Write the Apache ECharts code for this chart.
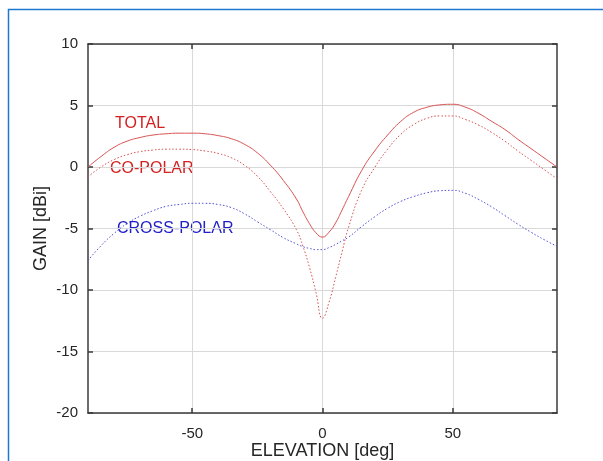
<!DOCTYPE html>
<html>
<head>
    <meta charset="UTF-8">
    <title>Gain vs elevation</title>
    <style>
        html, body {
            margin: 0;
            padding: 0;
            background: #fff;
        }
        #main {
            width: 603px;
            height: 461px;
        }
    </style>
    <script src="https://cdn.jsdelivr.net/npm/echarts@6/dist/echarts.min.js"></script>
</head>
<body>
<div id="main"></div>
<script type="text/javascript">
    // elevation samples (deg)
    var elevation = [-90, -85, -80, -75, -70, -65, -60, -55, -50, -45, -40, -35, -30, -25, -20, -15,
        -10, -7.5, -5, -2.5, 0, 2.5, 5, 7.5, 10, 15, 20, 25, 30, 35, 40, 45, 50, 55, 60, 65, 70, 75, 80, 85, 90];
    // gain (dBi)
    var total = [0.0, 0.85, 1.6, 2.1, 2.4, 2.6, 2.7, 2.75, 2.75, 2.7, 2.55, 2.3, 1.85, 1.15, 0.15, -1.1,
        -2.6, -3.65, -4.6, -5.35, -5.7, -5.3, -4.55, -3.5, -2.4, -0.3, 1.3, 2.6, 3.7, 4.45, 4.85, 5.05, 5.1, 4.85, 4.35, 3.7, 3.05, 2.25, 1.5, 0.75, 0.0];
    var coPolar = [-0.8, 0.0, 0.6, 1.0, 1.25, 1.38, 1.45, 1.45, 1.42, 1.3, 1.1, 0.75, 0.15, -0.75, -2.0, -3.4,
        -5.1, -6.45, -8.15, -10.2, -12.3, -11.0, -9.0, -6.9, -4.9, -1.9, -0.05, 1.45, 2.65, 3.45, 3.95, 4.15, 4.15, 3.85, 3.4, 2.8, 2.1, 1.3, 0.55, -0.2, -0.95];
    var crossPolar = [-7.6, -6.4, -5.4, -4.6, -4.0, -3.55, -3.2, -3.05, -2.95, -2.95, -3.05, -3.3, -3.8, -4.45, -5.1, -5.75,
        -6.25, -6.48, -6.62, -6.72, -6.72, -6.55, -6.3, -6.0, -5.7, -4.85, -4.05, -3.35, -2.8, -2.4, -2.1, -1.93, -1.9, -2.15, -2.65, -3.25, -3.95, -4.65, -5.3, -5.9, -6.45];
    var xTicks = [-50, 0, 50];

    var font = 'Liberation Sans, Arial, sans-serif';
    var axisColor = '#3a3a3a';
    var red = '#d95050';
    var blue = '#5050d8';

    function pairs(ys) {
        var out = [];
        for (var i = 0; i < elevation.length; i++) {
            out.push([elevation[i], ys[i]]);
        }
        return out;
    }

    var myChart = echarts.init(document.getElementById('main'));
    var option = {
        animation: false,
        backgroundColor: '#fff',
        grid: {
            left: 88,
            top: 44,
            right: 46,
            bottom: 48,
            containLabel: false,
            outerBoundsMode: 'none'
        },
        xAxis: [{
            type: 'value',
            min: -90,
            max: 90,
            name: 'ELEVATION [deg]',
            nameLocation: 'middle',
            nameMoveOverlap: false,
            nameGap: 29,
            nameTextStyle: {color: '#262626', fontSize: 18, fontFamily: font},
            axisLine: {onZero: false, lineStyle: {color: axisColor, width: 1.5}},
            axisTick: {inside: true, length: 5, customValues: xTicks, lineStyle: {color: axisColor, width: 1.5}},
            axisLabel: {customValues: xTicks, color: '#262626', fontSize: 15, fontFamily: font, margin: 13},
            splitLine: {show: true, lineStyle: {color: '#d9d9d9', width: 1}}
        }, {
            type: 'value',
            position: 'top',
            min: -90,
            max: 90,
            axisLine: {onZero: false, lineStyle: {color: axisColor, width: 1.5}},
            axisTick: {inside: true, length: 5, customValues: xTicks, lineStyle: {color: axisColor, width: 1.5}},
            axisLabel: {show: false},
            splitLine: {show: false}
        }],
        yAxis: [{
            type: 'value',
            min: -20,
            max: 10,
            interval: 5,
            name: 'GAIN [dBi]',
            nameLocation: 'middle',
            nameMoveOverlap: false,
            nameGap: 38,
            nameTextStyle: {color: '#262626', fontSize: 18, fontFamily: font},
            axisLine: {show: true, onZero: false, lineStyle: {color: axisColor, width: 1.5}},
            axisTick: {show: true, inside: true, length: 5, lineStyle: {color: axisColor, width: 1.5}},
            axisLabel: {color: '#262626', fontSize: 15, fontFamily: font, margin: 10},
            splitLine: {show: true, lineStyle: {color: '#d9d9d9', width: 1}}
        }, {
            type: 'value',
            position: 'right',
            min: -20,
            max: 10,
            interval: 5,
            axisLine: {show: true, onZero: false, lineStyle: {color: axisColor, width: 1.5}},
            axisTick: {show: true, inside: true, length: 5, lineStyle: {color: axisColor, width: 1.5}},
            axisLabel: {show: false},
            splitLine: {show: false}
        }],
        series: [{
            name: 'TOTAL',
            type: 'line',
            smooth: true,
            showSymbol: false,
            data: pairs(total),
            lineStyle: {color: red, width: 1}
        }, {
            name: 'CO-POLAR',
            type: 'line',
            smooth: true,
            showSymbol: false,
            data: pairs(coPolar),
            lineStyle: {color: red, width: 1, type: [1.5, 2]}
        }, {
            name: 'CROSS-POLAR',
            type: 'line',
            smooth: true,
            showSymbol: false,
            data: pairs(crossPolar),
            lineStyle: {color: blue, width: 1, type: [1.5, 2]}
        }],
        graphic: [{
            type: 'rect',
            shape: {x: 8.5, y: 9.5, width: 800, height: 800},
            style: {fill: 'none', stroke: '#1f78cf', lineWidth: 1.5},
            silent: true
        }, {
            type: 'text',
            left: 115,
            top: 116,
            style: {text: 'TOTAL', fill: '#d42020', fontSize: 16, fontFamily: font}
        }, {
            type: 'text',
            left: 110,
            top: 161,
            style: {text: 'CO-POLAR', fill: '#d42020', fontSize: 16, fontFamily: font}
        }, {
            type: 'text',
            left: 117,
            top: 221,
            style: {text: 'CROSS-POLAR', fill: '#2020c8', fontSize: 16, fontFamily: font}
        }]
    };
    myChart.setOption(option);
</script>
</body>
</html>
